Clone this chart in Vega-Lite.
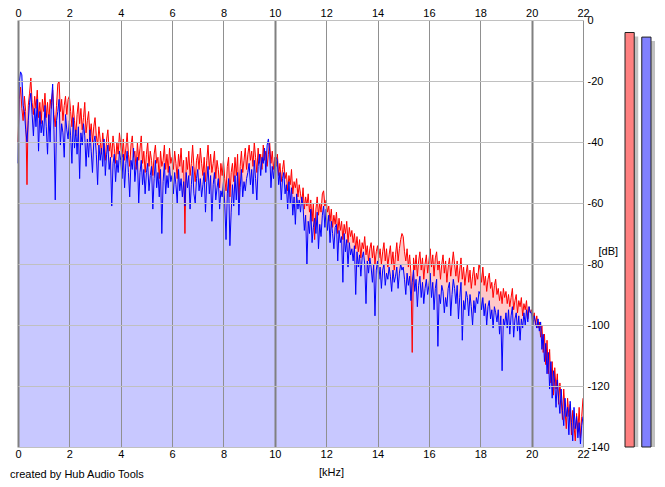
{
  "$schema": "https://vega.github.io/schema/vega-lite/v6.json",
  "background": "white",
  "padding": {"left": 10, "top": 7, "right": 5, "bottom": 5},
  "config": {
    "view": {"stroke": null},
    "font": "Liberation Sans",
    "axis": {"labelFontSize": 11, "labelColor": "#000000", "titleFontSize": 11, "titleFontWeight": "normal", "titleColor": "#000000", "domain": false, "ticks": false}
  },
  "datasets": {
    "spectrum": [
      {"f":0.00,"L":-40,"R":-47},{"f":0.05,"L":-26,"R":-20},{"f":0.10,"L":-22,"R":-17},{"f":0.15,"L":-29,"R":-18},{"f":0.20,"L":-33,"R":-28},
      {"f":0.25,"L":-25,"R":-30},{"f":0.30,"L":-30,"R":-36},{"f":0.35,"L":-54,"R":-40},{"f":0.40,"L":-28,"R":-33},{"f":0.45,"L":-24,"R":-27},
      {"f":0.50,"L":-19,"R":-24},{"f":0.55,"L":-27,"R":-31},{"f":0.60,"L":-31,"R":-38},{"f":0.65,"L":-25,"R":-29},{"f":0.70,"L":-29,"R":-35},
      {"f":0.75,"L":-23,"R":-26},{"f":0.80,"L":-32,"R":-43},{"f":0.85,"L":-27,"R":-30},{"f":0.90,"L":-34,"R":-37},{"f":0.95,"L":-26,"R":-33},
      {"f":1.00,"L":-30,"R":-38},{"f":1.05,"L":-24,"R":-28},{"f":1.10,"L":-32,"R":-35},{"f":1.15,"L":-27,"R":-44},{"f":1.20,"L":-34,"R":-31},
      {"f":1.25,"L":-26,"R":-40},{"f":1.30,"L":-29,"R":-27},{"f":1.35,"L":-23,"R":-21},{"f":1.40,"L":-31,"R":-36},{"f":1.45,"L":-35,"R":-59},
      {"f":1.50,"L":-28,"R":-33},{"f":1.55,"L":-21,"R":-30},{"f":1.60,"L":-20,"R":-26},{"f":1.65,"L":-30,"R":-41},{"f":1.70,"L":-26,"R":-34},
      {"f":1.75,"L":-33,"R":-37},{"f":1.80,"L":-28,"R":-45},{"f":1.85,"L":-25,"R":-31},{"f":1.90,"L":-31,"R":-36},{"f":1.95,"L":-26,"R":-39},
      {"f":2.00,"L":-25,"R":-33},{"f":2.05,"L":-30,"R":-38},{"f":2.10,"L":-35,"R":-47},{"f":2.15,"L":-28,"R":-32},{"f":2.20,"L":-33,"R":-42},
      {"f":2.25,"L":-38,"R":-36},{"f":2.30,"L":-31,"R":-44},{"f":2.35,"L":-27,"R":-35},{"f":2.40,"L":-34,"R":-52},{"f":2.45,"L":-29,"R":-37},
      {"f":2.50,"L":-36,"R":-41},{"f":2.55,"L":-32,"R":-34},{"f":2.60,"L":-27,"R":-38},{"f":2.65,"L":-37,"R":-48},{"f":2.70,"L":-33,"R":-39},
      {"f":2.75,"L":-30,"R":-45},{"f":2.80,"L":-38,"R":-36},{"f":2.85,"L":-34,"R":-43},{"f":2.90,"L":-40,"R":-50},{"f":2.95,"L":-35,"R":-40},
      {"f":3.00,"L":-32,"R":-38},{"f":3.05,"L":-38,"R":-44},{"f":3.10,"L":-41,"R":-54},{"f":3.15,"L":-35,"R":-41},{"f":3.20,"L":-39,"R":-46},
      {"f":3.25,"L":-44,"R":-42},{"f":3.30,"L":-37,"R":-48},{"f":3.35,"L":-42,"R":-39},{"f":3.40,"L":-46,"R":-51},{"f":3.45,"L":-39,"R":-44},
      {"f":3.50,"L":-36,"R":-41},{"f":3.55,"L":-43,"R":-49},{"f":3.60,"L":-40,"R":-45},{"f":3.65,"L":-45,"R":-61},{"f":3.70,"L":-38,"R":-47},
      {"f":3.75,"L":-42,"R":-44},{"f":3.80,"L":-47,"R":-53},{"f":3.85,"L":-40,"R":-46},{"f":3.90,"L":-44,"R":-50},{"f":3.95,"L":-37,"R":-43},
      {"f":4.00,"L":-41,"R":-46},{"f":4.05,"L":-45,"R":-52},{"f":4.10,"L":-39,"R":-44},{"f":4.15,"L":-46,"R":-55},{"f":4.20,"L":-42,"R":-47},
      {"f":4.25,"L":-37,"R":-43},{"f":4.30,"L":-44,"R":-50},{"f":4.35,"L":-48,"R":-58},{"f":4.40,"L":-41,"R":-46},{"f":4.45,"L":-38,"R":-49},
      {"f":4.50,"L":-45,"R":-42},{"f":4.55,"L":-43,"R":-53},{"f":4.60,"L":-49,"R":-48},{"f":4.65,"L":-40,"R":-45},{"f":4.70,"L":-46,"R":-60},
      {"f":4.75,"L":-42,"R":-50},{"f":4.80,"L":-38,"R":-46},{"f":4.85,"L":-47,"R":-54},{"f":4.90,"L":-43,"R":-49},{"f":4.95,"L":-50,"R":-57},
      {"f":5.00,"L":-44,"R":-50},{"f":5.05,"L":-40,"R":-47},{"f":5.10,"L":-48,"R":-56},{"f":5.15,"L":-43,"R":-51},{"f":5.20,"L":-46,"R":-48},
      {"f":5.25,"L":-51,"R":-62},{"f":5.30,"L":-44,"R":-52},{"f":5.35,"L":-41,"R":-46},{"f":5.40,"L":-47,"R":-55},{"f":5.45,"L":-45,"R":-50},
      {"f":5.50,"L":-52,"R":-58},{"f":5.55,"L":-43,"R":-49},{"f":5.60,"L":-48,"R":-70},{"f":5.65,"L":-46,"R":-53},{"f":5.70,"L":-41,"R":-47},
      {"f":5.75,"L":-49,"R":-57},{"f":5.80,"L":-44,"R":-51},{"f":5.85,"L":-50,"R":-55},{"f":5.90,"L":-42,"R":-48},{"f":5.95,"L":-47,"R":-53},
      {"f":6.00,"L":-45,"R":-51},{"f":6.05,"L":-49,"R":-57},{"f":6.10,"L":-43,"R":-50},{"f":6.15,"L":-47,"R":-54},{"f":6.20,"L":-52,"R":-60},
      {"f":6.25,"L":-44,"R":-49},{"f":6.30,"L":-48,"R":-56},{"f":6.35,"L":-42,"R":-52},{"f":6.40,"L":-50,"R":-58},{"f":6.45,"L":-46,"R":-53},
      {"f":6.50,"L":-70,"R":-61},{"f":6.55,"L":-45,"R":-50},{"f":6.60,"L":-49,"R":-55},{"f":6.65,"L":-43,"R":-51},{"f":6.70,"L":-51,"R":-62},
      {"f":6.75,"L":-47,"R":-54},{"f":6.80,"L":-41,"R":-48},{"f":6.85,"L":-48,"R":-57},{"f":6.90,"L":-53,"R":-60},{"f":6.95,"L":-46,"R":-52},
      {"f":7.00,"L":-44,"R":-49},{"f":7.05,"L":-49,"R":-56},{"f":7.10,"L":-42,"R":-52},{"f":7.15,"L":-47,"R":-58},{"f":7.20,"L":-51,"R":-54},
      {"f":7.25,"L":-45,"R":-50},{"f":7.30,"L":-53,"R":-63},{"f":7.35,"L":-46,"R":-53},{"f":7.40,"L":-41,"R":-48},{"f":7.45,"L":-49,"R":-57},
      {"f":7.50,"L":-44,"R":-51},{"f":7.55,"L":-50,"R":-66},{"f":7.60,"L":-47,"R":-54},{"f":7.65,"L":-43,"R":-50},{"f":7.70,"L":-52,"R":-59},
      {"f":7.75,"L":-46,"R":-55},{"f":7.80,"L":-49,"R":-52},{"f":7.85,"L":-55,"R":-62},{"f":7.90,"L":-47,"R":-56},{"f":7.95,"L":-51,"R":-58},
      {"f":8.00,"L":-46,"R":-53},{"f":8.05,"L":-52,"R":-60},{"f":8.10,"L":-56,"R":-72},{"f":8.15,"L":-48,"R":-57},{"f":8.20,"L":-45,"R":-52},
      {"f":8.25,"L":-58,"R":-74},{"f":8.30,"L":-50,"R":-63},{"f":8.35,"L":-47,"R":-54},{"f":8.40,"L":-53,"R":-61},{"f":8.45,"L":-45,"R":-51},
      {"f":8.50,"L":-51,"R":-59},{"f":8.55,"L":-44,"R":-50},{"f":8.60,"L":-60,"R":-64},{"f":8.65,"L":-48,"R":-55},{"f":8.70,"L":-43,"R":-49},
      {"f":8.75,"L":-50,"R":-58},{"f":8.80,"L":-46,"R":-53},{"f":8.85,"L":-42,"R":-56},{"f":8.90,"L":-49,"R":-52},{"f":8.95,"L":-44,"R":-50},
      {"f":9.00,"L":-41,"R":-47},{"f":9.05,"L":-46,"R":-54},{"f":9.10,"L":-43,"R":-49},{"f":9.15,"L":-48,"R":-57},{"f":9.20,"L":-40,"R":-46},
      {"f":9.25,"L":-45,"R":-52},{"f":9.30,"L":-50,"R":-59},{"f":9.35,"L":-42,"R":-48},{"f":9.40,"L":-47,"R":-44},{"f":9.45,"L":-44,"R":-51},
      {"f":9.50,"L":-49,"R":-45},{"f":9.55,"L":-41,"R":-47},{"f":9.60,"L":-46,"R":-42},{"f":9.65,"L":-43,"R":-50},{"f":9.70,"L":-48,"R":-41},
      {"f":9.75,"L":-44,"R":-39},{"f":9.80,"L":-40,"R":-43},{"f":9.85,"L":-47,"R":-55},{"f":9.90,"L":-43,"R":-48},{"f":9.95,"L":-49,"R":-52},
      {"f":10.00,"L":-45,"R":-47},{"f":10.05,"L":-48,"R":-45},{"f":10.10,"L":-44,"R":-46},{"f":10.15,"L":-51,"R":-54},{"f":10.20,"L":-47,"R":-50},
      {"f":10.25,"L":-53,"R":-59},{"f":10.30,"L":-49,"R":-52},{"f":10.35,"L":-46,"R":-50},{"f":10.40,"L":-52,"R":-57},{"f":10.45,"L":-50,"R":-54},
      {"f":10.50,"L":-56,"R":-62},{"f":10.55,"L":-51,"R":-53},{"f":10.60,"L":-54,"R":-60},{"f":10.65,"L":-49,"R":-55},{"f":10.70,"L":-57,"R":-64},
      {"f":10.75,"L":-53,"R":-58},{"f":10.80,"L":-55,"R":-67},{"f":10.85,"L":-52,"R":-57},{"f":10.90,"L":-58,"R":-62},{"f":10.95,"L":-54,"R":-59},
      {"f":11.00,"L":-57,"R":-63},{"f":11.05,"L":-60,"R":-58},{"f":11.10,"L":-55,"R":-61},{"f":11.15,"L":-62,"R":-69},{"f":11.20,"L":-58,"R":-64},
      {"f":11.25,"L":-61,"R":-80},{"f":11.30,"L":-57,"R":-66},{"f":11.35,"L":-63,"R":-70},{"f":11.40,"L":-59,"R":-62},{"f":11.45,"L":-66,"R":-73},
      {"f":11.50,"L":-60,"R":-68},{"f":11.55,"L":-72,"R":-65},{"f":11.60,"L":-62,"R":-70},{"f":11.65,"L":-58,"R":-63},{"f":11.70,"L":-64,"R":-75},
      {"f":11.75,"L":-60,"R":-67},{"f":11.80,"L":-63,"R":-71},{"f":11.85,"L":-57,"R":-64},{"f":11.90,"L":-56,"R":-61},{"f":11.95,"L":-61,"R":-68},
      {"f":12.00,"L":-59,"R":-62},{"f":12.05,"L":-63,"R":-69},{"f":12.10,"L":-61,"R":-64},{"f":12.15,"L":-66,"R":-73},{"f":12.20,"L":-62,"R":-66},
      {"f":12.25,"L":-68,"R":-70},{"f":12.30,"L":-64,"R":-75},{"f":12.35,"L":-67,"R":-68},{"f":12.40,"L":-63,"R":-67},{"f":12.45,"L":-70,"R":-79},
      {"f":12.50,"L":-65,"R":-69},{"f":12.55,"L":-69,"R":-73},{"f":12.60,"L":-66,"R":-71},{"f":12.65,"L":-72,"R":-86},{"f":12.70,"L":-67,"R":-70},
      {"f":12.75,"L":-70,"R":-76},{"f":12.80,"L":-66,"R":-72},{"f":12.85,"L":-73,"R":-81},{"f":12.90,"L":-68,"R":-73},{"f":12.95,"L":-71,"R":-77},
      {"f":13.00,"L":-69,"R":-75},{"f":13.05,"L":-73,"R":-79},{"f":13.10,"L":-70,"R":-74},{"f":13.15,"L":-75,"R":-90},{"f":13.20,"L":-71,"R":-76},
      {"f":13.25,"L":-76,"R":-81},{"f":13.30,"L":-72,"R":-77},{"f":13.35,"L":-78,"R":-84},{"f":13.40,"L":-73,"R":-78},{"f":13.45,"L":-75,"R":-76},
      {"f":13.50,"L":-71,"R":-80},{"f":13.55,"L":-77,"R":-93},{"f":13.60,"L":-74,"R":-79},{"f":13.65,"L":-79,"R":-83},{"f":13.70,"L":-75,"R":-78},
      {"f":13.75,"L":-73,"R":-81},{"f":13.80,"L":-78,"R":-86},{"f":13.85,"L":-74,"R":-80},{"f":13.90,"L":-80,"R":-97},{"f":13.95,"L":-76,"R":-82},
      {"f":14.00,"L":-74,"R":-79},{"f":14.05,"L":-78,"R":-85},{"f":14.10,"L":-75,"R":-81},{"f":14.15,"L":-80,"R":-88},{"f":14.20,"L":-76,"R":-82},
      {"f":14.25,"L":-73,"R":-80},{"f":14.30,"L":-79,"R":-87},{"f":14.35,"L":-75,"R":-83},{"f":14.40,"L":-81,"R":-85},{"f":14.45,"L":-77,"R":-81},
      {"f":14.50,"L":-74,"R":-84},{"f":14.55,"L":-80,"R":-89},{"f":14.60,"L":-76,"R":-82},{"f":14.65,"L":-82,"R":-86},{"f":14.70,"L":-77,"R":-84},
      {"f":14.75,"L":-73,"R":-81},{"f":14.80,"L":-79,"R":-88},{"f":14.85,"L":-75,"R":-83},{"f":14.90,"L":-72,"R":-80},{"f":14.95,"L":-70,"R":-82},
      {"f":15.00,"L":-71,"R":-81},{"f":15.05,"L":-76,"R":-85},{"f":15.10,"L":-79,"R":-90},{"f":15.15,"L":-75,"R":-83},{"f":15.20,"L":-81,"R":-87},
      {"f":15.25,"L":-77,"R":-84},{"f":15.30,"L":-83,"R":-92},{"f":15.35,"L":-109,"R":-86},{"f":15.40,"L":-78,"R":-82},{"f":15.45,"L":-82,"R":-89},
      {"f":15.50,"L":-77,"R":-85},{"f":15.55,"L":-84,"R":-94},{"f":15.60,"L":-79,"R":-87},{"f":15.65,"L":-76,"R":-84},{"f":15.70,"L":-82,"R":-91},
      {"f":15.75,"L":-78,"R":-86},{"f":15.80,"L":-85,"R":-93},{"f":15.85,"L":-80,"R":-88},{"f":15.90,"L":-77,"R":-85},{"f":15.95,"L":-83,"R":-90},
      {"f":16.00,"L":-79,"R":-87},{"f":16.05,"L":-75,"R":-83},{"f":16.10,"L":-81,"R":-91},{"f":16.15,"L":-77,"R":-86},{"f":16.20,"L":-84,"R":-95},
      {"f":16.25,"L":-78,"R":-88},{"f":16.30,"L":-76,"R":-85},{"f":16.35,"L":-82,"R":-107},{"f":16.40,"L":-79,"R":-90},{"f":16.45,"L":-85,"R":-93},
      {"f":16.50,"L":-80,"R":-87},{"f":16.55,"L":-77,"R":-89},{"f":16.60,"L":-83,"R":-96},{"f":16.65,"L":-79,"R":-91},{"f":16.70,"L":-86,"R":-94},
      {"f":16.75,"L":-81,"R":-88},{"f":16.80,"L":-78,"R":-86},{"f":16.85,"L":-84,"R":-97},{"f":16.90,"L":-80,"R":-90},{"f":16.95,"L":-76,"R":-85},
      {"f":17.00,"L":-80,"R":-88},{"f":17.05,"L":-84,"R":-93},{"f":17.10,"L":-79,"R":-87},{"f":17.15,"L":-86,"R":-98},{"f":17.20,"L":-82,"R":-91},
      {"f":17.25,"L":-78,"R":-86},{"f":17.30,"L":-85,"R":-105},{"f":17.35,"L":-81,"R":-92},{"f":17.40,"L":-87,"R":-95},{"f":17.45,"L":-83,"R":-89},
      {"f":17.50,"L":-80,"R":-91},{"f":17.55,"L":-86,"R":-97},{"f":17.60,"L":-82,"R":-90},{"f":17.65,"L":-88,"R":-94},{"f":17.70,"L":-84,"R":-100},
      {"f":17.75,"L":-81,"R":-92},{"f":17.80,"L":-87,"R":-96},{"f":17.85,"L":-83,"R":-91},{"f":17.90,"L":-85,"R":-93},{"f":17.95,"L":-80,"R":-89},
      {"f":18.00,"L":-82,"R":-90},{"f":18.05,"L":-86,"R":-95},{"f":18.10,"L":-81,"R":-91},{"f":18.15,"L":-87,"R":-97},{"f":18.20,"L":-84,"R":-93},
      {"f":18.25,"L":-89,"R":-100},{"f":18.30,"L":-85,"R":-94},{"f":18.35,"L":-83,"R":-92},{"f":18.40,"L":-88,"R":-98},{"f":18.45,"L":-86,"R":-95},
      {"f":18.50,"L":-91,"R":-101},{"f":18.55,"L":-87,"R":-94},{"f":18.60,"L":-85,"R":-96},{"f":18.65,"L":-90,"R":-99},{"f":18.70,"L":-88,"R":-95},
      {"f":18.75,"L":-92,"R":-103},{"f":18.80,"L":-89,"R":-97},{"f":18.85,"L":-93,"R":-115},{"f":18.90,"L":-88,"R":-98},{"f":18.95,"L":-91,"R":-100},
      {"f":19.00,"L":-89,"R":-96},{"f":19.05,"L":-93,"R":-101},{"f":19.10,"L":-90,"R":-95},{"f":19.15,"L":-94,"R":-103},{"f":19.20,"L":-91,"R":-97},
      {"f":19.25,"L":-88,"R":-94},{"f":19.30,"L":-95,"R":-104},{"f":19.35,"L":-92,"R":-98},{"f":19.40,"L":-90,"R":-96},{"f":19.45,"L":-96,"R":-102},
      {"f":19.50,"L":-92,"R":-97},{"f":19.55,"L":-94,"R":-105},{"f":19.60,"L":-91,"R":-98},{"f":19.65,"L":-97,"R":-101},{"f":19.70,"L":-93,"R":-96},
      {"f":19.75,"L":-95,"R":-100},{"f":19.80,"L":-92,"R":-95},{"f":19.85,"L":-98,"R":-99},{"f":19.90,"L":-94,"R":-94},{"f":19.95,"L":-96,"R":-96},
      {"f":20.00,"L":-95,"R":-96},{"f":20.05,"L":-98,"R":-100},{"f":20.10,"L":-96,"R":-97},{"f":20.15,"L":-100,"R":-99},{"f":20.20,"L":-97,"R":-101},
      {"f":20.25,"L":-101,"R":-98},{"f":20.30,"L":-99,"R":-102},{"f":20.35,"L":-104,"R":-99},{"f":20.40,"L":-100,"R":-108},{"f":20.45,"L":-109,"R":-103},
      {"f":20.50,"L":-103,"R":-112},{"f":20.55,"L":-113,"R":-106},{"f":20.60,"L":-105,"R":-116},{"f":20.65,"L":-116,"R":-109},{"f":20.70,"L":-108,"R":-121},
      {"f":20.75,"L":-119,"R":-112},{"f":20.80,"L":-112,"R":-124},{"f":20.85,"L":-123,"R":-115},{"f":20.90,"L":-114,"R":-119},{"f":20.95,"L":-121,"R":-127},
      {"f":21.00,"L":-116,"R":-118},{"f":21.05,"L":-126,"R":-124},{"f":21.10,"L":-119,"R":-129},{"f":21.15,"L":-124,"R":-121},{"f":21.20,"L":-131,"R":-128},
      {"f":21.25,"L":-121,"R":-133},{"f":21.30,"L":-128,"R":-124},{"f":21.35,"L":-134,"R":-130},{"f":21.40,"L":-124,"R":-127},{"f":21.45,"L":-130,"R":-136},
      {"f":21.50,"L":-126,"R":-125},{"f":21.55,"L":-136,"R":-132},{"f":21.60,"L":-128,"R":-138},{"f":21.65,"L":-133,"R":-127},{"f":21.70,"L":-138,"R":-134},
      {"f":21.75,"L":-129,"R":-130},{"f":21.80,"L":-135,"R":-137},{"f":21.85,"L":-127,"R":-132},{"f":21.90,"L":-137,"R":-139},{"f":21.95,"L":-130,"R":-133},
      {"f":22.00,"L":-124,"R":-130}
    ],
    "meters": [
      {"channel": "L", "level": -4.1},
      {"channel": "R", "level": -5.6}
    ]
  },
  "bounds": "flush",
  "spacing": 42,
  "hconcat": [
    {
      "data": {"name": "spectrum"},
      "width": 565,
      "height": 427,
      "title": {"text": "created by Hub Audio Tools", "orient": "bottom", "anchor": "start", "frame": "group", "fontSize": 11, "fontWeight": "normal", "color": "#000000", "dx": -8, "offset": -8},
      "encoding": {
        "y": {
          "field": "L",
          "type": "quantitative",
          "scale": {"domain": [-140, 0], "nice": false},
          "axis": {
            "orient": "right",
            "values": [0, -20, -40, -60, -80, -100, -120, -140],
            "labelExpr": "'' + datum.value",
            "labelAlign": "left",
            "labelBaseline": "middle",
            "labelPadding": 4,
            "grid": true,
            "gridColor": "#c0c0c0",
            "gridWidth": 1,
            "zindex": 1,
            "title": "[dB]",
            "titleAngle": 0,
            "titleAlign": "left",
            "titleBaseline": "middle",
            "titleX": 15,
            "titleY": 231
          }
        }
      },
      "layer": [
        {
          "mark": {"type": "area", "color": "#ffc8c8"},
          "encoding": {
            "x": {
              "field": "f",
              "type": "quantitative",
              "scale": {"domain": [0, 22], "nice": false},
              "axis": {
                "orient": "top",
                "values": [0, 2, 4, 6, 8, 10, 12, 14, 16, 18, 20, 22],
                "labelFlush": false,
                "labelOverlap": false,
                "labelPadding": 2,
                "grid": true,
                "gridColor": {"condition": {"test": "datum.value % 10 === 0", "value": "#808080"}, "value": "#909090"},
                "gridWidth": {"condition": {"test": "datum.value % 10 === 0", "value": 2}, "value": 1},
                "zindex": 1,
                "title": null
              }
            },
            "y": {"field": "L", "type": "quantitative"},
            "y2": {"datum": -140}
          }
        },
        {
          "mark": {"type": "area", "color": "#c8c8ff"},
          "encoding": {
            "x": {
              "field": "f",
              "type": "quantitative",
              "axis": {
                "orient": "bottom",
                "values": [0, 2, 4, 6, 8, 10, 12, 14, 16, 18, 20, 22],
                "labelFlush": false,
                "labelOverlap": false,
                "labelPadding": 1,
                "grid": false,
                "title": "[kHz]",
                "titleX": 313,
                "titleY": 25,
                "titleAlign": "center",
                "titleBaseline": "middle"
              }
            },
            "y": {"field": "R", "type": "quantitative"},
            "y2": {"datum": -140}
          }
        },
        {
          "mark": {"type": "line", "color": "#ff0000", "strokeWidth": 1},
          "encoding": {
            "x": {"field": "f", "type": "quantitative", "axis": null},
            "y": {"field": "L", "type": "quantitative"}
          }
        },
        {
          "mark": {"type": "line", "color": "#0000ff", "strokeWidth": 1},
          "encoding": {
            "x": {"field": "f", "type": "quantitative", "axis": null},
            "y": {"field": "R", "type": "quantitative"}
          }
        }
      ],
      "resolve": {"axis": {"x": "independent"}}
    },
    {
      "data": {"name": "meters"},
      "width": 26,
      "height": 427,
      "encoding": {
        "x": {"field": "channel", "type": "nominal", "scale": {"paddingInner": 0.45, "paddingOuter": 0}, "axis": null},
        "y": {"field": "level", "type": "quantitative", "scale": {"domain": [-140, 0], "nice": false}, "axis": null},
        "y2": {"datum": -140}
      },
      "layer": [
        {"mark": {"type": "bar", "color": "#c0c0c0", "xOffset": 4, "yOffset": 4}},
        {
          "mark": {"type": "bar", "stroke": "#202020", "strokeWidth": 1},
          "encoding": {
            "color": {"field": "channel", "type": "nominal", "scale": {"domain": ["L", "R"], "range": ["#ff8080", "#8080ff"]}, "legend": null}
          }
        }
      ]
    }
  ]
}
